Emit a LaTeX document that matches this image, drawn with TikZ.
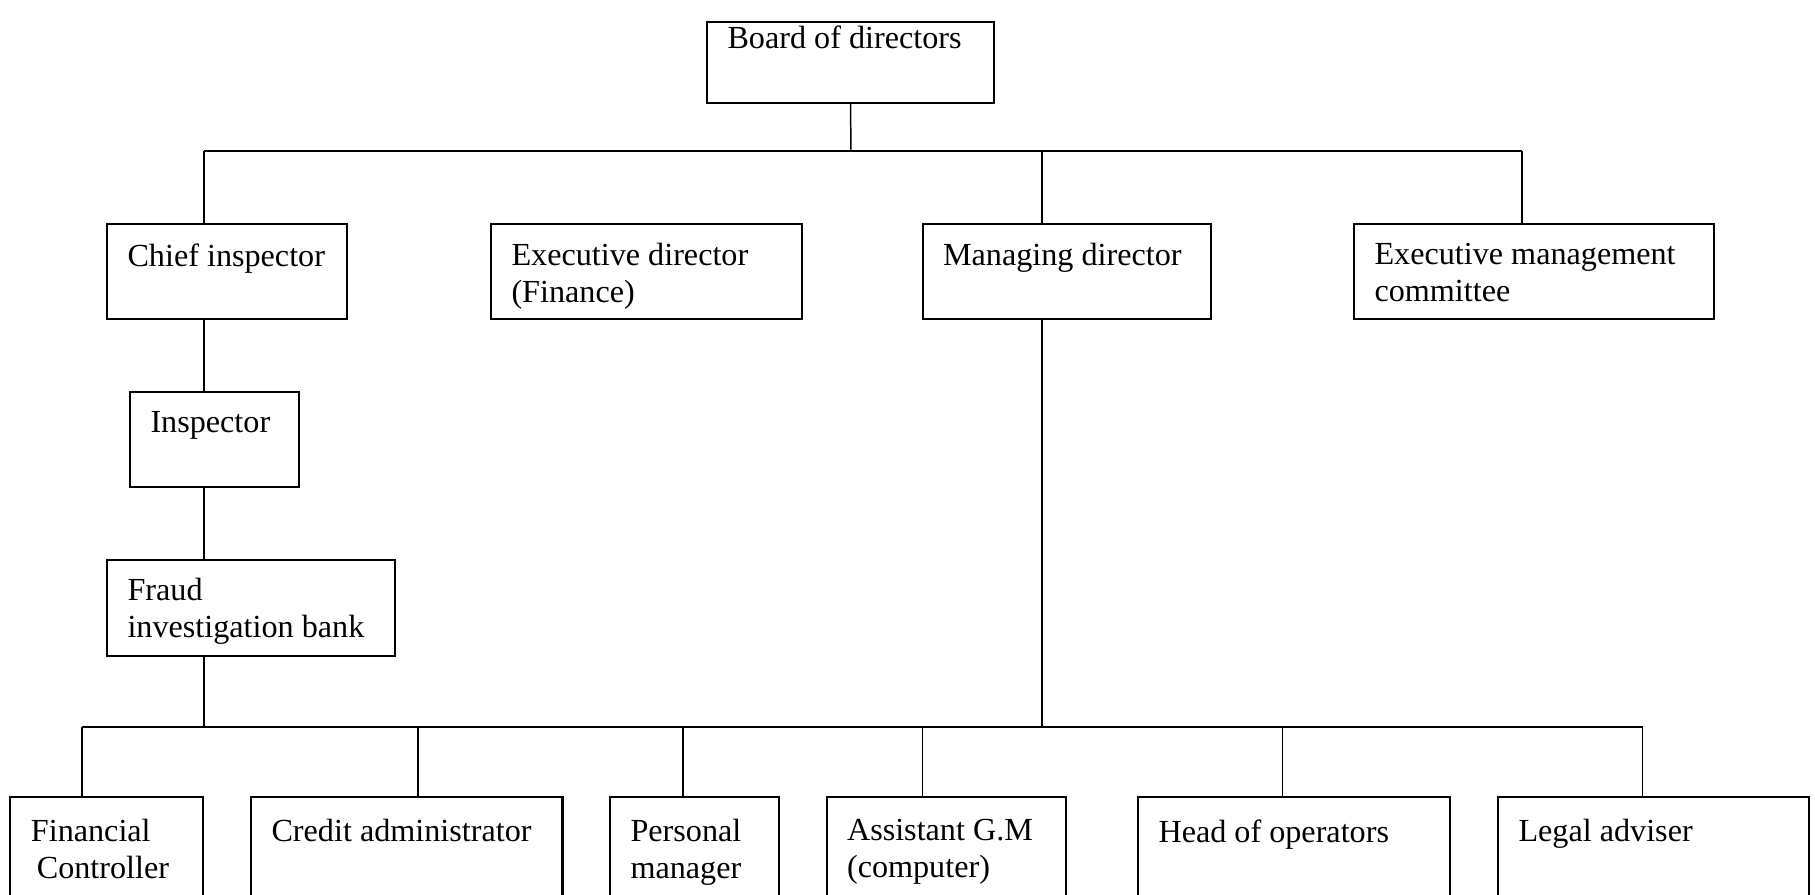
\documentclass[tikz,border=0pt]{standalone}
\usepackage{fontspec}
\setmainfont{Liberation Serif}
\usetikzlibrary{fit}
\begin{document}
\begin{tikzpicture}[x=0.373pt,y=-0.373pt,
  box/.style={draw,line width=0.75pt,inner sep=0pt,rectangle},
  lbl/.style={anchor=north west,inner sep=0pt,align=left,font=\fontsize{12pt}{13.8pt}\selectfont},
  link/.style={draw,line width=0.55pt}]
\useasboundingbox (0,0) rectangle (1815,894);
% top
\node[box,fit={(707,22)(994,103)}] (board) {};
\node[lbl] (board-t) at ([shift={(21,4)}]board.north west) {Board of directors};
% second row
\node[box,fit={(107,224)(347,319)}] (chief) {};
\node[lbl] (chief-t) at ([shift={(21,20)}]chief.north west) {Chief inspector};
\node[box,fit={(491,224)(802,319)}] (execd) {};
\node[lbl] (execd-t) at ([shift={(21,20)}]execd.north west) {Executive director\\(Finance)};
\node[box,fit={(922.5,224)(1211,319)}] (md) {};
\node[lbl] (md-t) at ([shift={(21,20)}]md.north west) {Managing director};
\node[box,fit={(1354,224)(1714,319)}] (emc) {};
\node[lbl] (emc-t) at ([shift={(21,20)}]emc.north west) {Executive management\\committee};
% left column
\node[box,fit={(130,392)(299,487)}] (insp) {};
\node[lbl] (insp-t) at ([shift={(21,20)}]insp.north west) {Inspector};
\node[box,fit={(107,560)(395,656)}] (fraud) {};
\node[lbl] (fraud-t) at ([shift={(21,19)}]fraud.north west) {Fraud\\investigation bank};
% bottom row
\node[box,fit={(10.4,797)(202.6,930)}] (fin) {};
\node[lbl] (fin-t) at ([shift={(21,23)}]fin.north west) {Financial\\\hspace{2.2pt}Controller};
\node[box,fit={(251,797)(562.5,930)}] (credit) {};
\node[lbl] (credit-t) at ([shift={(21,23)}]credit.north west) {Credit administrator};
\node[box,fit={(610,797)(779,930)}] (pers) {};
\node[lbl] (pers-t) at ([shift={(21,23)}]pers.north west) {Personal\\manager};
\node[box,fit={(826.5,797)(1066,930)}] (asst) {};
\node[lbl] (asst-t) at ([shift={(21,23)}]asst.north west) {Assistant G.M\\(computer)};
\node[box,fit={(1138,797)(1450,930)}] (head) {};
\node[lbl] (head-t) at ([shift={(21,23)}]head.north west) {Head of operators};
\node[box,fit={(1498,797)(1809,930)}] (legal) {};
\node[lbl] (legal-t) at ([shift={(21,23)}]legal.north west) {Legal adviser};
% bus coordinates
\coordinate (bt) at (851,151);
\coordinate (tl) at (204,151);
\coordinate (tm) at (1042,151);
\coordinate (tr) at (1522,151);
\coordinate (bb) at (204,727);
\coordinate (bmd) at (1042,727);
\coordinate (b1) at (82,727);
\coordinate (b2) at (418,727);
\coordinate (b3) at (683,727);
\coordinate (b4) at (922.5,727);
\coordinate (b5) at (1282.5,727);
\coordinate (b6) at (1642.5,727);
% connectors
\path[link] (board.south) -- (bt);
\path[link] (tl) -- (tr);
\path[link] (tl) -- (tl |- chief.north);
\path[link] (tm) -- (tm |- md.north);
\path[link] (tr) -- (tr |- emc.north);
\path[link] (tl |- chief.south) -- (tl |- insp.north);
\path[link] (tl |- insp.south) -- (tl |- fraud.north);
\path[link] (tl |- fraud.south) -- (bb);
\path[link] (tm |- md.south) -- (bmd);
\path[link] (b1) -- (b6);
\path[link] (b1) -- (b1 |- fin.north);
\path[link] (b2) -- (b2 |- credit.north);
\path[link] (b3) -- (b3 |- pers.north);
\path[link] (b4) -- (b4 |- asst.north);
\path[link] (b5) -- (b5 |- head.north);
\path[link] (b6) -- (b6 |- legal.north);
\end{tikzpicture}
\end{document}
